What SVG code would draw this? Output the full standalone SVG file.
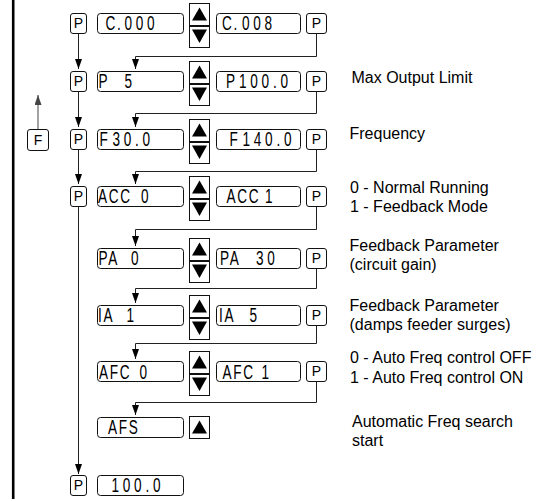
<svg xmlns="http://www.w3.org/2000/svg" xmlns:xlink="http://www.w3.org/1999/xlink" width="555" height="501" viewBox="0 0 555 501">
<style>
.box{fill:#fff;stroke:#111;stroke-width:1}
.btn{fill:#fff;stroke:#111;stroke-width:1}
.tri{fill:#000}
.val{font-family:"Liberation Sans",Arial,sans-serif;font-size:20px;fill:#000;letter-spacing:2.5px}
.dg{letter-spacing:5.5px}
.pk{font-family:"Liberation Sans",Arial,sans-serif;font-size:14px;fill:#000;text-anchor:middle}
.lbl{font-family:"Liberation Sans",Arial,sans-serif;font-size:16px;fill:#000}
.conn{fill:none;stroke:#222;stroke-width:1}
.farrow{fill:none;stroke:#444;stroke-width:1}
</style>
<defs>
<marker id="ah" markerUnits="userSpaceOnUse" viewBox="0 0 10 7" refX="10" refY="3.5" markerWidth="10" markerHeight="7" orient="auto">
<path d="M0,0 L10,3.5 L0,7 z" fill="#000"/>
</marker>
<marker id="ahg" markerUnits="userSpaceOnUse" viewBox="0 0 10 7" refX="10" refY="3.5" markerWidth="10" markerHeight="7" orient="auto">
<path d="M0,0 L10,3.5 L0,7 z" fill="#444"/>
</marker>
<g id="upbtn"><rect x="0.5" y="0.5" width="20" height="22" class="btn"/><polygon points="10.5,4.5 18,17.5 3,17.5" class="tri"/></g>
<g id="dnbtn"><rect x="0.5" y="0.5" width="20" height="21" class="btn"/><polygon points="3,3.5 18,3.5 10.5,17" class="tri"/></g>
<rect id="pkey" x="0.5" y="0.5" width="16" height="20" rx="2.5" class="box"/>
<rect id="pkey2" x="0.5" y="0.5" width="20" height="20" rx="2.5" class="box"/>
<rect id="vbox" x="0.5" y="0.5" width="86" height="20" rx="3" class="box"/>
<rect id="vbox2" x="0.5" y="0.5" width="84" height="20" rx="3" class="box"/>
</defs>

<rect x="0" y="0" width="555" height="501" fill="#fff"/>
<line x1="13.2" y1="0" x2="13.2" y2="499" stroke="#000" stroke-width="2.6"/>

<g id="connectors">
<path class="conn" d="M78.5,33 V69" marker-end="url(#ah)"/>
<path class="conn" d="M78.5,91 V127" marker-end="url(#ah)"/>
<path class="conn" d="M78.5,149 V184" marker-end="url(#ah)"/>
<path class="conn" d="M78.5,206 V474" marker-end="url(#ah)"/>
<path class="farrow" d="M38,129 V95" marker-end="url(#ahg)"/>
<path class="conn" d="M316.5,33 V56.5 H135.5 V69" marker-end="url(#ah)"/>
<path class="conn" d="M316.5,91 V113.5 H135.5 V127" marker-end="url(#ah)"/>
<path class="conn" d="M316.5,149 V171.5 H135.5 V184" marker-end="url(#ah)"/>
<path class="conn" d="M316.5,206 V229.5 H135.5 V246" marker-end="url(#ah)"/>
<path class="conn" d="M316.5,268 V288.5 H135.5 V303" marker-end="url(#ah)"/>
<path class="conn" d="M316.5,325 V343.5 H135.5 V359" marker-end="url(#ah)"/>
<path class="conn" d="M316.5,381 V402.5 H135.5 V415" marker-end="url(#ah)"/>
</g>

<g id="key-F"><rect x="27.5" y="129.5" width="21" height="21" rx="2.5" class="box"/><text class="pk" x="38" y="145">F</text></g>

<!-- Row 1 -->
<g id="r1-p"><use xlink:href="#pkey" x="70" y="13"/><text class="pk" x="78.5" y="28">P</text></g>
<g id="r1-min"><use xlink:href="#vbox" x="97" y="13"/><text class="val" y="30.5" transform="scale(0.68,1)"><tspan x="155.15">C.</tspan> <tspan class="dg" x="183.09">000</tspan></text></g>
<g id="r1-btn"><use xlink:href="#upbtn" x="189" y="3"/><use xlink:href="#dnbtn" x="189" y="26"/></g>
<g id="r1-max"><use xlink:href="#vbox2" x="216" y="13"/><text class="val" y="30.5" transform="scale(0.68,1)"><tspan x="326.47">C.</tspan> <tspan class="dg" x="355.88">008</tspan></text></g>
<g id="r1-p2"><use xlink:href="#pkey2" x="306" y="13"/><text class="pk" x="316.5" y="28">P</text></g>

<!-- Row 2 -->
<g id="r2-p"><use xlink:href="#pkey" x="70" y="71"/><text class="pk" x="78.5" y="86">P</text></g>
<g id="r2-min"><use xlink:href="#vbox" x="97" y="71"/><text class="val" y="88.5" transform="scale(0.68,1)"><tspan x="144.85">P</tspan> <tspan class="dg" x="183.09">5</tspan></text></g>
<g id="r2-btn"><use xlink:href="#upbtn" x="189" y="61"/><use xlink:href="#dnbtn" x="189" y="84"/></g>
<g id="r2-max"><use xlink:href="#vbox2" x="216" y="71"/><text class="val" y="88.5" transform="scale(0.68,1)"><tspan x="332.35">P</tspan> <tspan class="dg" x="351.47">100.0</tspan></text></g>
<g id="r2-p2"><use xlink:href="#pkey2" x="306" y="71"/><text class="pk" x="316.5" y="86">P</text></g>

<!-- Row 3 -->
<g id="r3-p"><use xlink:href="#pkey" x="70" y="129"/><text class="pk" x="78.5" y="144">P</text></g>
<g id="r3-min"><use xlink:href="#vbox" x="97" y="129"/><text class="val" y="146.5" transform="scale(0.68,1)"><tspan x="146.32">F</tspan> <tspan class="dg" x="165.44">30.0</tspan></text></g>
<g id="r3-btn"><use xlink:href="#upbtn" x="189" y="119"/><use xlink:href="#dnbtn" x="189" y="142"/></g>
<g id="r3-max"><use xlink:href="#vbox2" x="216" y="129"/><text class="val" y="146.5" transform="scale(0.68,1)"><tspan x="337.5">F</tspan> <tspan class="dg" x="356.62">140.0</tspan></text></g>
<g id="r3-p2"><use xlink:href="#pkey2" x="306" y="129"/><text class="pk" x="316.5" y="144">P</text></g>

<!-- Row 4 -->
<g id="r4-p"><use xlink:href="#pkey" x="70" y="186"/><text class="pk" x="78.5" y="201">P</text></g>
<g id="r4-min"><use xlink:href="#vbox" x="97" y="186"/><text class="val" y="203.5" transform="scale(0.68,1)"><tspan x="144.12">ACC</tspan> <tspan class="dg" x="207.35">0</tspan></text></g>
<g id="r4-btn"><use xlink:href="#upbtn" x="189" y="176"/><use xlink:href="#dnbtn" x="189" y="199"/></g>
<g id="r4-max"><use xlink:href="#vbox2" x="216" y="186"/><text class="val" y="203.5" transform="scale(0.68,1)"><tspan x="333.09">ACC</tspan> <tspan class="dg" x="389.71">1</tspan></text></g>
<g id="r4-p2"><use xlink:href="#pkey2" x="306" y="186"/><text class="pk" x="316.5" y="201">P</text></g>

<!-- Row 5 -->
<g id="r5-min"><use xlink:href="#vbox" x="97" y="248"/><text class="val" y="265.5" transform="scale(0.68,1)"><tspan x="144.85">PA</tspan> <tspan class="dg" x="192.65">0</tspan></text></g>
<g id="r5-btn"><use xlink:href="#upbtn" x="189" y="238"/><use xlink:href="#dnbtn" x="189" y="261"/></g>
<g id="r5-max"><use xlink:href="#vbox2" x="216" y="248"/><text class="val" y="265.5" transform="scale(0.68,1)"><tspan x="323.53">PA</tspan> <tspan class="dg" x="376.47">30</tspan></text></g>
<g id="r5-p2"><use xlink:href="#pkey2" x="306" y="248"/><text class="pk" x="316.5" y="263">P</text></g>

<!-- Row 6 -->
<g id="r6-min"><use xlink:href="#vbox" x="97" y="305"/><text class="val" y="322.5" transform="scale(0.68,1)"><tspan x="144.12">IA</tspan> <tspan class="dg" x="186.03">1</tspan></text></g>
<g id="r6-btn"><use xlink:href="#upbtn" x="189" y="295"/><use xlink:href="#dnbtn" x="189" y="318"/></g>
<g id="r6-max"><use xlink:href="#vbox2" x="216" y="305"/><text class="val" y="322.5" transform="scale(0.68,1)"><tspan x="322.06">IA</tspan> <tspan class="dg" x="366.91">5</tspan></text></g>
<g id="r6-p2"><use xlink:href="#pkey2" x="306" y="305"/><text class="pk" x="316.5" y="320">P</text></g>

<!-- Row 7 -->
<g id="r7-min"><use xlink:href="#vbox" x="97" y="361"/><text class="val" y="378.5" transform="scale(0.68,1)"><tspan x="145.59">AFC</tspan> <tspan class="dg" x="205.15">0</tspan></text></g>
<g id="r7-btn"><use xlink:href="#upbtn" x="189" y="351"/><use xlink:href="#dnbtn" x="189" y="374"/></g>
<g id="r7-max"><use xlink:href="#vbox2" x="216" y="361"/><text class="val" y="378.5" transform="scale(0.68,1)"><tspan x="327.21">AFC</tspan> <tspan class="dg" x="384.56">1</tspan></text></g>
<g id="r7-p2"><use xlink:href="#pkey2" x="306" y="361"/><text class="pk" x="316.5" y="376">P</text></g>

<!-- Row 8 -->
<g id="r8-afs"><use xlink:href="#vbox" x="97" y="417"/><text class="val" x="158.82" y="434.5" transform="scale(0.68,1)">AFS</text></g>
<g id="r8-btn"><use xlink:href="#upbtn" x="189" y="416"/></g>

<!-- Row 9 -->
<g id="r9-p"><use xlink:href="#pkey" x="70" y="475"/><text class="pk" x="78.5" y="490">P</text></g>
<g id="r9-val"><use xlink:href="#vbox" x="97" y="475"/><text class="val dg" x="163.97" y="492.5" transform="scale(0.68,1)">100.0</text></g>

<!-- Labels -->
<g id="lbl-max"><text class="lbl" x="351.5" y="83">Max Output Limit</text></g>
<g id="lbl-freq"><text class="lbl" x="349.5" y="139">Frequency</text></g>
<g id="lbl-acc"><text class="lbl" x="350" y="193">0 - Normal Running</text><text class="lbl" x="350" y="211.5">1 - Feedback Mode</text></g>
<g id="lbl-pa"><text class="lbl" x="349.5" y="251">Feedback Parameter</text><text class="lbl" x="349.5" y="270">(circuit gain)</text></g>
<g id="lbl-ia"><text class="lbl" x="349.5" y="311">Feedback Parameter</text><text class="lbl" x="349.5" y="330">(damps feeder surges)</text></g>
<g id="lbl-afc"><text class="lbl" x="350" y="363">0 - Auto Freq control OFF</text><text class="lbl" x="350" y="382.5">1 - Auto Freq control ON</text></g>
<g id="lbl-afs"><text class="lbl" x="352" y="427">Automatic Freq search</text><text class="lbl" x="352" y="446">start</text></g>
</svg>
